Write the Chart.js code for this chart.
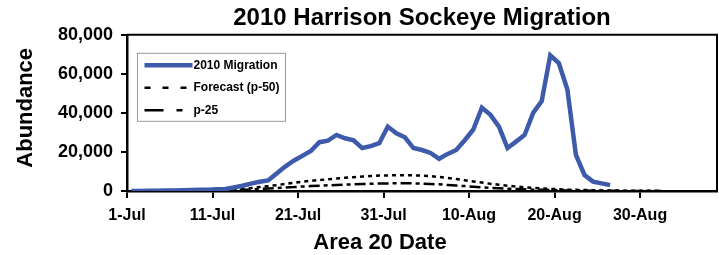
<!DOCTYPE html>
<html>
<head>
<meta charset="utf-8">
<title>2010 Harrison Sockeye Migration</title>
<script src="https://cdn.jsdelivr.net/npm/chart.js@4.4.1/dist/chart.umd.min.js"></script>
<style>
    html, body { margin: 0; padding: 0; background: #fff; }
</style>
</head>
<body>
<canvas id="myChart" width="719" height="255"></canvas>
<script>
// days are counted from 1-Jul (day 0)
var tickDays = [0, 10, 20, 30, 40, 50, 60];
var tickLabels = ['1-Jul', '11-Jul', '21-Jul', '31-Jul', '10-Aug', '20-Aug', '30-Aug'];

// 2010 migration, one value per day from 1-Jul to 26-Aug
var migration2010 = [
    0, 50, 100, 150, 250, 300, 400, 500, 600, 700,
    850, 1000, 1800, 2700, 3800, 4700, 5400, 9000, 12500, 15500,
    18000, 20500, 25000, 25800, 28700, 27000, 26000, 22000, 23000, 24500,
    33000, 29600, 27500, 22000, 21000, 19500, 16500, 19000, 21000, 26000,
    31500, 42700, 39000, 33000, 22000, 25300, 28700, 40000, 46000, 69500,
    65500, 52000, 18500, 8200, 4800, 3900, 3000
];

// forecasts start on 11-Jul
var forecastStart = 10;
var forecastP50 = [
    200, 400, 700, 1100, 1500, 2000, 2500, 3000, 3600, 4200,
    4800, 5200, 5600, 6000, 6400, 6800, 7100, 7400, 7700, 7900,
    8000, 8100, 8100, 8000, 7900, 7600, 7200, 6700, 6100, 5500,
    4900, 4300, 3700, 3200, 2700, 2300, 1900, 1600, 1300, 1100,
    900, 700, 600, 500, 400, 300, 250, 200, 150, 120,
    100, 80, 50
];
var forecastP25 = [
    100, 200, 350, 550, 750, 1000, 1250, 1500, 1800, 2000,
    2300, 2500, 2700, 2900, 3100, 3300, 3400, 3600, 3700, 3800,
    3900, 4000, 4000, 3900, 3800, 3600, 3400, 3100, 2800, 2500,
    2200, 1900, 1600, 1400, 1200, 1000, 850, 700, 600, 500,
    400, 320, 260, 200, 150, 120, 90, 70, 50, 40,
    30, 20, 10
];

var FONT = "'Liberation Sans', Arial, sans-serif";

// points sit in the middle of their day
function toPoints(values, start) {
    return values.map(function (v, i) {
        return { x: start + i + 0.5, y: v };
    });
}

// frame, axis titles and the boxed legend
var decorations = {
    id: 'decorations',
    afterDatasetsDraw: function (chart) {
        var ctx = chart.ctx;
        var a = chart.chartArea;
        ctx.save();

        // top and right edges of the plot frame
        ctx.strokeStyle = '#000';
        ctx.lineWidth = 2;
        ctx.beginPath();
        ctx.moveTo(a.left, a.top);
        ctx.lineTo(a.right, a.top);
        ctx.lineTo(a.right, a.bottom);
        ctx.stroke();

        // axis titles
        ctx.fillStyle = '#000';
        ctx.font = 'bold 22px ' + FONT;
        ctx.textAlign = 'center';
        ctx.textBaseline = 'middle';
        ctx.fillText('Area 20 Date', a.left + 253, a.bottom + 52);

        ctx.save();
        ctx.translate(a.left - 101, a.top + 73);
        ctx.rotate(-Math.PI / 2);
        ctx.fillText('Abundance', 0, 0);
        ctx.restore();

        // legend box
        var bx = a.left + 10.5, by = a.top + 18.5;
        ctx.fillStyle = '#fff';
        ctx.fillRect(bx, by, 148, 68);
        ctx.strokeStyle = '#9a9a9a';
        ctx.lineWidth = 1;
        ctx.strokeRect(bx, by, 148, 68);

        chart.data.datasets.forEach(function (ds, i) {
            var y = by + 12 + i * 22.5;
            ctx.strokeStyle = ds.borderColor;
            ctx.lineWidth = ds.borderWidth;
            ctx.setLineDash(ds.legendDash || []);
            ctx.beginPath();
            ctx.moveTo(bx + 7, y);
            ctx.lineTo(bx + 55, y);
            ctx.stroke();
            ctx.setLineDash([]);
            ctx.fillStyle = '#000';
            ctx.font = 'bold 12px ' + FONT;
            ctx.textAlign = 'left';
            ctx.textBaseline = 'middle';
            ctx.fillText(ds.label, bx + 56, y);
        });
        ctx.restore();
    }
};

var ctx = document.getElementById('myChart');

if (ctx) {
    var myChart = new Chart(ctx, {
        type: 'line',
        data: {
            datasets: [{
                label: '2010 Migration',
                data: toPoints(migration2010, 0),
                borderColor: '#3d5aab',
                borderWidth: 4.5,
                legendDash: []
            }, {
                label: 'Forecast (p-50)',
                data: toPoints(forecastP50, forecastStart),
                borderColor: '#000',
                borderWidth: 2.5,
                borderDash: [4, 4],
                legendDash: [6, 12]
            }, {
                label: 'p-25',
                data: toPoints(forecastP25, forecastStart),
                borderColor: '#000',
                borderWidth: 2.5,
                borderDash: [11, 4, 4, 4],
                legendDash: [19, 13, 6, 12]
            }]
        },
        options: {
            responsive: false,
            animation: false,
            devicePixelRatio: 1,
            elements: {
                point: { radius: 0 },
                line: { tension: 0, borderCapStyle: 'butt' }
            },
            layout: { padding: { top: 0, right: 2, left: 0, bottom: 0 } },
            scales: {
                x: {
                    type: 'linear',
                    min: 0,
                    max: 69,
                    afterBuildTicks: function (scale) {
                        scale.ticks = tickDays.map(function (d) { return { value: d }; });
                    },
                    afterFit: function (scale) { scale.height = 64; },
                    ticks: {
                        autoSkip: false,
                        maxRotation: 0,
                        padding: 8,
                        color: '#000',
                        font: { family: FONT, size: 16, weight: 'bold' },
                        callback: function (value) {
                            var i = tickDays.indexOf(value);
                            return i >= 0 ? tickLabels[i] : '';
                        }
                    },
                    grid: {
                        drawOnChartArea: false,
                        tickLength: 7,
                        color: '#000',
                        lineWidth: 2
                    },
                    border: { color: '#000', width: 2.5 }
                },
                y: {
                    min: 0,
                    max: 80000,
                    afterFit: function (scale) { scale.width = 127; },
                    ticks: {
                        stepSize: 20000,
                        padding: 8,
                        color: '#000',
                        font: { family: FONT, size: 18, weight: 'bold' },
                        callback: function (value) { return value.toLocaleString('en-US'); }
                    },
                    grid: {
                        drawOnChartArea: false,
                        tickLength: 6,
                        color: '#000',
                        lineWidth: 2
                    },
                    border: { color: '#000', width: 2.5 }
                }
            },
            plugins: {
                legend: { display: false },
                tooltip: { enabled: false },
                title: {
                    display: true,
                    fullSize: false,
                    text: '2010 Harrison Sockeye Migration',
                    color: '#000',
                    padding: { top: 4, bottom: 2 },
                    font: { family: FONT, size: 24, weight: 'bold' }
                }
            }
        },
        plugins: [decorations]
    });
} else {
    console.error("Canvas element with ID 'myChart' not found.");
}
</script>
</body>
</html>
